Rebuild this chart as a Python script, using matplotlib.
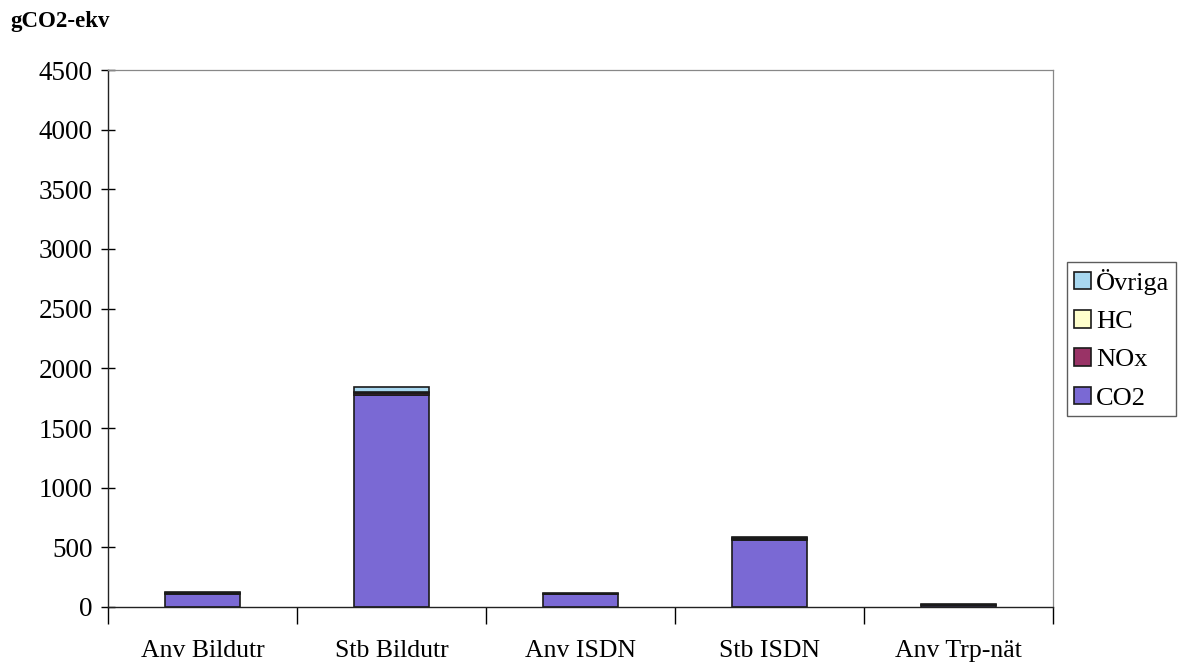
import numpy as np
import matplotlib.pyplot as plt

plt.rcParams['font.family'] = ['Liberation Serif', 'DejaVu Serif']

# Emissions per scenario, gCO2-ekv
categories = ['Anv Bildutr', 'Stb Bildutr', 'Anv ISDN', 'Stb ISDN', 'Anv Trp-nät']
co2 = [110, 1780, 105, 565, 18]
nox = [6, 15, 5, 8, 1]
hc = [2, 5, 2, 3, 1]
ovriga = [7, 40, 5, 14, 2]

series = [('CO2', co2, '#7a69d4'),
          ('NOx', nox, '#993366'),
          ('HC', hc, '#ffffcc'),
          ('Övriga', ovriga, '#a8d8f0')]

fig = plt.figure(figsize=(11.84, 6.62), dpi=100)
ax = fig.add_axes([108 / 1184, 1 - 607 / 662, (1053 - 108) / 1184, (607 - 70) / 662])

x = np.arange(len(categories))
bottom = np.zeros(len(categories))
handles = []
for name, vals, color in series:
    b = ax.bar(x, vals, width=0.4, bottom=bottom, color=color,
               edgecolor='#1a1a1a', linewidth=1.2, label=name)
    handles.append(b)
    bottom += np.array(vals)

ax.set_xlim(-0.5, len(categories) - 0.5)
ax.set_ylim(0, 4500)
ax.set_yticks(np.arange(0, 4501, 500))
ax.tick_params(axis='y', direction='inout', length=10, width=1, labelsize=19.5, pad=6)

ax.set_xticks(x)
ax.set_xticklabels(categories, fontsize=18.5)
ax.tick_params(axis='x', length=0, pad=24)
ax.set_xticks(np.arange(-0.5, len(categories)), minor=True)
ax.tick_params(axis='x', which='minor', direction='out', length=12, width=1)

for side in ['top', 'right']:
    ax.spines[side].set_color('#888888')
    ax.spines[side].set_linewidth(0.9)
for side in ['left', 'bottom']:
    ax.spines[side].set_color('#222222')
    ax.spines[side].set_linewidth(1)

fig.text(10 / 1184, 1 - 22 / 662, 'gCO2-ekv', fontsize=16.5, fontweight='bold', va='center')

leg = fig.legend(handles[::-1], [s[0] for s in series][::-1],
                 loc='upper left', bbox_to_anchor=(1067 / 1184, 1 - 262 / 662),
                 frameon=True, fancybox=False, edgecolor='#333333', fontsize=19,
                 handlelength=0.65, handleheight=0.65, handletextpad=0.2,
                 labelspacing=0.58, borderpad=0.25, borderaxespad=0)
leg.get_frame().set_linewidth(1)

fig.savefig('out.png', dpi=100, facecolor='white')
